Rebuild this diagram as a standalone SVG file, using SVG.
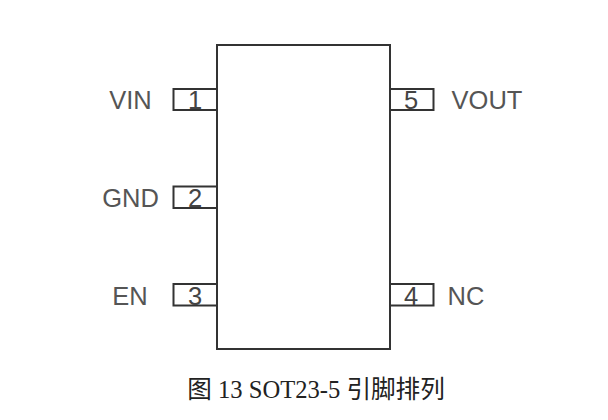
<svg xmlns="http://www.w3.org/2000/svg" width="608" height="420" viewBox="0 0 608 420">
<style>
.b{fill:none;stroke:#333;stroke-width:2}
.l{font-family:"Liberation Sans",Arial,sans-serif;font-size:25.500px;fill:#555;text-anchor:middle}
.n{font-family:"Liberation Sans",Arial,sans-serif;font-size:25.500px;fill:#444;text-anchor:middle}
.c{font-family:"Liberation Serif","Noto Sans CJK SC",serif;font-size:24.600px;fill:#222;text-anchor:middle}
</style>
<rect width="608" height="420" fill="#fff"/>
<g id="pin1"><path class="b" d="M217 89H173.500V110H217"/><text class="n" x="195" y="108.500">1</text><text class="l" x="130.500" y="109">VIN</text></g>
<g id="pin2"><path class="b" d="M217 186.500H173.500V208H217"/><text class="n" x="195" y="206.500">2</text><text class="l" x="130.500" y="207">GND</text></g>
<g id="pin3"><path class="b" d="M217 284H173.500V305.500H217"/><text class="n" x="195" y="304.500">3</text><text class="l" x="130" y="304.500">EN</text></g>
<g id="pin5"><path class="b" d="M390 89H433.500V110H390"/><text class="n" x="411" y="108.500">5</text><text class="l" x="487" y="109">VOUT</text></g>
<g id="pin4"><path class="b" d="M390 284H433.500V305.500H390"/><text class="n" x="411" y="304.500">4</text><text class="l" x="466" y="304.500">NC</text></g>
<g id="body"><rect class="b" x="217" y="45" width="173" height="304"/></g>
<g id="connectors"></g>
<text class="c" x="316" y="398">图 13 SOT23-5 引脚排列</text>
</svg>
